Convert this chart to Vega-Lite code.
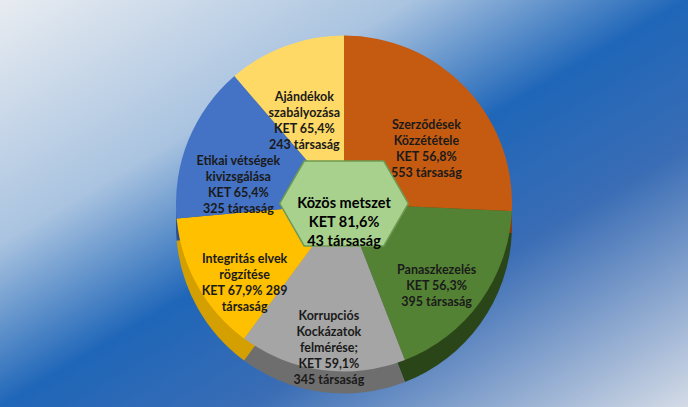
{
  "$schema": "https://vega.github.io/schema/vega-lite/v6.json",
  "width": 688,
  "height": 407,
  "autosize": {"type": "fit", "contains": "padding"},
  "padding": 0,
  "background": "#c9d3e2",
  "view": {
    "stroke": null,
    "fill": {
      "gradient": "linear", "x1": 0, "y1": 0, "x2": 1, "y2": 1,
      "stops": [
        {"offset": 0, "color": "#e8ecf1"},
        {"offset": 0.3, "color": "#a9c3e0"},
        {"offset": 0.5, "color": "#1f66b8"},
        {"offset": 0.68, "color": "#3a6db5"},
        {"offset": 1, "color": "#d4dbe6"}
      ]
    }
  },
  "datasets": {
    "slices": [
      {"sor": 1, "nev": "Szerződések Közzététele", "tarsasag": 553, "felirat": "Szerződések\nKözzététele\nKET 56,8%\n553 társaság"},
      {"sor": 2, "nev": "Panaszkezelés", "tarsasag": 395, "felirat": "Panaszkezelés\nKET 56,3%\n395 társaság"},
      {"sor": 3, "nev": "Korrupciós Kockázatok felmérése", "tarsasag": 345, "felirat": "Korrupciós\nKockázatok\nfelmérése;\nKET 59,1%\n345 társaság"},
      {"sor": 4, "nev": "Integritás elvek rögzítése", "tarsasag": 289, "felirat": "Integritás elvek\nrögzítése\nKET 67,9% 289\ntársaság"},
      {"sor": 5, "nev": "Etikai vétségek kivizsgálása", "tarsasag": 325, "felirat": "Etikai vétségek\nkivizsgálása\nKET 65,4%\n325 társaság"},
      {"sor": 6, "nev": "Ajándékok szabályozása", "tarsasag": 243, "felirat": "Ajándékok\nszabályozása\nKET 65,4%\n243 társaság"}
    ],
    "kozos": [
      {"nev": "Közös metszet", "tarsasag": 43, "felirat": "Közös metszet\nKET 81,6%\n43 társaság"}
    ]
  },
  "layer": [
    {
      "data": {"name": "slices"},
      "mark": {"type": "arc", "radius": 168, "yOffset": 22, "stroke": null},
      "encoding": {
        "theta": {"field": "tarsasag", "type": "quantitative", "stack": true},
        "order": {"field": "sor", "type": "quantitative"},
        "color": {
          "field": "nev", "type": "nominal", "legend": null,
          "scale": {
            "domain": ["Szerződések Közzététele", "Panaszkezelés", "Korrupciós Kockázatok felmérése", "Integritás elvek rögzítése", "Etikai vétségek kivizsgálása", "Ajándékok szabályozása"],
            "range": ["#8a3c0a", "#2a4518", "#6e6e6e", "#d49f00", "#2d4f8e", "#c9a640"]
          }
        }
      }
    },
    {
      "data": {"name": "slices"},
      "mark": {"type": "arc", "radius": 168, "stroke": null},
      "encoding": {
        "theta": {"field": "tarsasag", "type": "quantitative", "stack": true},
        "order": {"field": "sor", "type": "quantitative"},
        "color": {
          "field": "nev", "type": "nominal", "legend": null,
          "scale": {
            "domain": ["Szerződések Közzététele", "Panaszkezelés", "Korrupciós Kockázatok felmérése", "Integritás elvek rögzítése", "Etikai vétségek kivizsgálása", "Ajándékok szabályozása"],
            "range": ["#c55a11", "#548235", "#a5a5a5", "#ffc000", "#4472c4", "#ffd966"]
          }
        }
      }
    },
    {
      "data": {"name": "slices"},
      "mark": {"type": "text", "radius": 114, "lineBreak": "\n", "font": "Lato", "fontWeight": "bold", "fontSize": 12.5, "lineHeight": 16, "color": "#1a1a1a", "align": "center", "baseline": "middle"},
      "encoding": {
        "theta": {"field": "tarsasag", "type": "quantitative", "stack": true},
        "order": {"field": "sor", "type": "quantitative"},
        "text": {"field": "felirat", "type": "nominal"}
      }
    },
    {
      "data": {"name": "kozos"},
      "mark": {
        "type": "point", "filled": true, "size": 16500,
        "shape": "M -1 0 L -0.62 -0.66 L 0.62 -0.66 L 1 0 L 0.62 0.66 L -0.62 0.66 Z",
        "fill": "#a9d18e", "stroke": "#6f9a52", "strokeWidth": 1.5, "opacity": 1
      },
      "encoding": {}
    },
    {
      "data": {"name": "kozos"},
      "mark": {"type": "text", "lineBreak": "\n", "font": "Lato", "fontWeight": "bold", "fontSize": 14.5, "lineHeight": 19, "color": "#000000", "align": "center", "baseline": "middle"},
      "encoding": {
        "text": {"field": "felirat", "type": "nominal"}
      }
    }
  ],
  "resolve": {"scale": {"color": "independent", "theta": "shared"}}
}
